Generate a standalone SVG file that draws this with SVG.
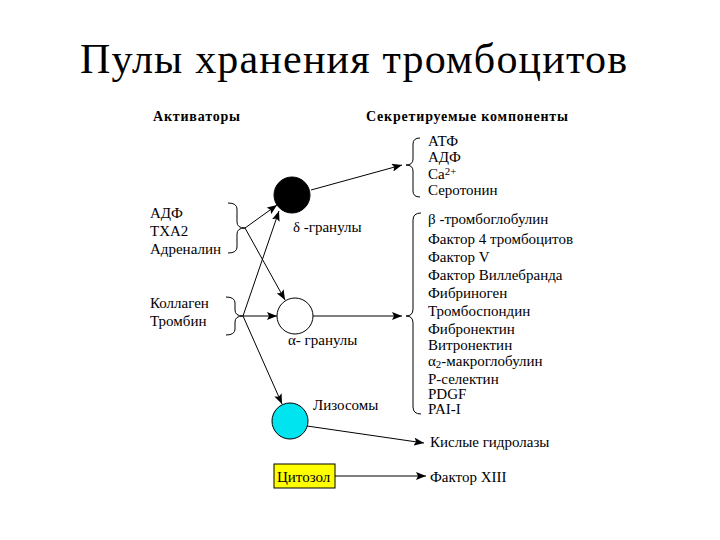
<svg xmlns="http://www.w3.org/2000/svg" width="720" height="540" viewBox="0 0 720 540">
<style>
text{font-family:"Liberation Serif","Times New Roman",serif;fill:#000}
.t{font-size:15px}
.h{font-size:14px;font-weight:bold}
.title{font-size:42px}
.ar{stroke:#000;stroke-width:1;fill:none;marker-end:url(#ah)}
.br{stroke:#000;stroke-width:1;fill:none}
</style>
<defs>
<marker id="ah" viewBox="0 0 10 8" refX="10" refY="4" markerWidth="10" markerHeight="8" markerUnits="userSpaceOnUse" orient="auto">
<path d="M0,0 L10,4 L0,8 L2,4 Z" fill="#000"/>
</marker>
</defs>
<rect width="720" height="540" fill="#fff"/>
<text class="title" x="80" y="73" textLength="547">Пулы хранения тромбоцитов</text>
<text class="h" x="153" y="121" textLength="87">Активаторы</text>
<text class="h" x="366" y="121" textLength="202">Секретируемые компоненты</text>

<g id="activators1">
<text class="t" x="150" y="218">АДФ</text>
<text class="t" x="150" y="236">ТХА2</text>
<text class="t" x="150" y="254">Адреналин</text>
<path class="br" d="M228,203 Q237,203 237,209 L237,222 Q237,228 245,228 Q237,228 237,234 L237,247 Q237,253 228,253"/>
</g>
<g id="activators2">
<text class="t" x="150" y="308">Коллаген</text>
<text class="t" x="150" y="326">Тромбин</text>
<path class="br" d="M226,297 Q235,297 235,303 L235,310 Q235,316 243,316 Q235,316 235,322 L235,329 Q235,335 226,335"/>
</g>

<g id="delta">
<circle cx="292" cy="195" r="18" fill="#000" stroke="#000"/>
<text class="t" x="293" y="232">δ -гранулы</text>
</g>
<g id="alpha">
<circle cx="295" cy="316" r="18" fill="#fff" stroke="#000"/>
<text class="t" x="288" y="345">α- гранулы</text>
</g>
<g id="lyso">
<circle cx="290" cy="421" r="18" fill="#00E4F0" stroke="#000"/>
<text class="t" x="313" y="410">Лизосомы</text>
</g>
<g id="cytosol">
<rect x="274" y="464" width="61" height="24" fill="#FFFF00" stroke="#000"/>
<text class="t" x="277" y="482">Цитозол</text>
</g>

<g id="secr1">
<path class="br" d="M420,138 Q413,138 413,144 L413,159 Q413,165 406,165 Q413,165 413,171 L413,191 Q413,197 420,197"/>
<text class="t" x="428" y="146">АТФ</text>
<text class="t" x="428" y="162">АДФ</text>
<text class="t" x="428" y="179">Ca<tspan font-size="11" dy="-4">2+</tspan></text>
<text class="t" x="428" y="195">Серотонин</text>
</g>
<g id="secr2">
<path class="br" d="M421,213 Q413,213 413,220 L413,309 Q413,316 406,316 Q413,316 413,323 L413,407 Q413,414 421,414"/>
<text class="t" x="428" y="224">β -тромбоглобулин</text>
<text class="t" x="428" y="244">Фактор 4 тромбоцитов</text>
<text class="t" x="428" y="262">Фактор  V</text>
<text class="t" x="428" y="280">Фактор Виллебранда</text>
<text class="t" x="428" y="298">Фибриноген</text>
<text class="t" x="428" y="316">Тромбоспондин</text>
<text class="t" x="428" y="334">Фибронектин</text>
<text class="t" x="428" y="350">Витронектин</text>
<text class="t" x="428" y="366">α<tspan font-size="11" dy="2">2</tspan><tspan dy="-2">-макроглобулин</tspan></text>
<text class="t" x="428" y="384">P-селектин</text>
<text class="t" x="428" y="399">PDGF</text>
<text class="t" x="428" y="414">PAI-I</text>
</g>
<g id="secr3">
<text class="t" x="430" y="447">Кислые гидролазы</text>
</g>
<g id="secr4">
<text class="t" x="430" y="482">Фактор  XIII</text>
</g>

<g id="connectors">
<line class="ar" x1="245" y1="228" x2="277" y2="205"/>
<line class="ar" x1="245" y1="228" x2="285" y2="300"/>
<line class="ar" x1="243" y1="316" x2="279" y2="211"/>
<line class="ar" x1="243" y1="316" x2="277" y2="316"/>
<line class="ar" x1="243" y1="316" x2="282" y2="404"/>
<line class="ar" x1="311" y1="190" x2="402" y2="165"/>
<line class="ar" x1="313" y1="316" x2="402" y2="316"/>
<line class="ar" x1="307" y1="426" x2="424" y2="443"/>
<line class="ar" x1="335" y1="476" x2="426" y2="476"/>
</g>
</svg>
